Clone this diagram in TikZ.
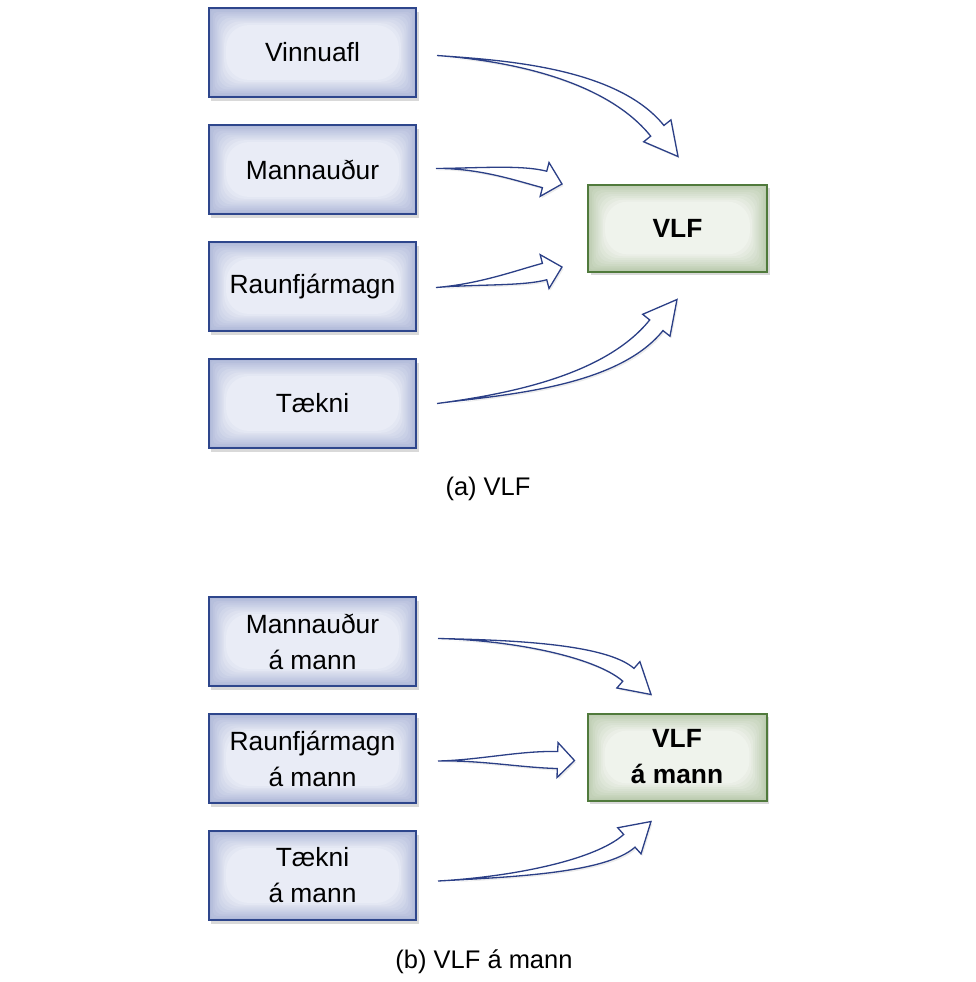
\documentclass[tikz,border=0pt]{standalone}
\usepackage{fontspec}
\setmainfont{Liberation Sans}
\usetikzlibrary{positioning, calc, shadows}
\definecolor{factorline}{RGB}{46,70,140}
\definecolor{factoredge}{RGB}{176,185,217}
\definecolor{factorcore}{RGB}{234,237,246}
\definecolor{outputline}{RGB}{80,122,60}
\definecolor{outputedge}{RGB}{188,204,176}
\definecolor{outputcore}{RGB}{240,243,237}
\definecolor{arrowline}{RGB}{43,63,134}
\newcommand{\shaftw}{1.7mm}
\newcommand{\headw}{3.5mm}
\newcommand{\hollowarrow}[5]{%
  \coordinate (tail) at (#1);
  \coordinate (ctrl) at (#3);
  \coordinate (tip) at (#4);
  \coordinate (base) at ($(tip)!#5!(ctrl)$);
  \filldraw[hollow] (tail) .. controls (#2) and ($(ctrl)!\shaftw!90:(base)$) .. ($(base)!\shaftw!-90:(ctrl)$)
    -- ($(base)!\headw!-90:(ctrl)$) -- (tip) -- ($(base)!\headw!90:(ctrl)$) -- ($(base)!\shaftw!90:(ctrl)$)
    .. controls ($(ctrl)!\shaftw!-90:(base)$) and (#2) .. (tail) -- cycle;}
\begin{document}
\begin{tikzpicture}[x=0.2mm, y=-0.2mm,
    glow/.style 2 args = {path picture = {
        \foreach \k [evaluate=\k as \pct using int(\k*11), evaluate=\k as \rc using \k*0.5] in {1,...,9}
            \fill[#2!\pct!#1, rounded corners=\rc mm] ([shift={(\k*0.38mm,-\k*0.38mm)}]path picture bounding box.north west)
                rectangle ([shift={(-\k*0.38mm,\k*0.38mm)}]path picture bounding box.south east);}},
    blockbox/.style = {draw, line width=0.4mm, minimum width=41.4mm, minimum height=17.8mm, align=center,
        font=\fontsize{15}{20.5}\selectfont, drop shadow={shadow xshift=0.5mm, shadow yshift=-0.7mm, opacity=0.3}},
    factor/.style = {blockbox, draw=factorline, fill=factoredge, glow={factoredge}{factorcore}},
    output/.style = {blockbox, draw=outputline, fill=outputedge, glow={outputedge}{outputcore},
        minimum width=35.8mm, minimum height=17.4mm, font=\fontsize{15}{20.5}\selectfont\bfseries},
    hollow/.style = {draw=arrowline, line width=0.26mm, fill=white, line join=miter,
        drop shadow={shadow xshift=0.3mm, shadow yshift=-0.4mm, opacity=0.15}},
    captiontext/.style = {font=\fontsize{14.5}{17}\selectfont}]
    \useasboundingbox (0,0) rectangle (976,982);
    \node[factor] (vinnuafl) at (312.5,52.5) {Vinnuafl};
    \node[factor] (mannaudur) [below=5.2mm of vinnuafl] {Mannauður};
    \node[factor] (raunfjarmagn) [below=5.2mm of mannaudur] {Raunfjármagn};
    \node[factor] (taekni) [below=5.2mm of raunfjarmagn] {Tækni};
    \node[output] (vlf) at (677.5,228) {VLF};
    \node[captiontext] (capa) at (488,489) {(a) VLF};
    \hollowarrow{$(vinnuafl.east)+(20,3)$}{500,60}{610,72}{$(vlf.north)+(0.5,-27)$}{6.6mm}
    \hollowarrow{$(mannaudur.east)+(19,-1)$}{480,168}{520,173}{$(vlf.west)+(-25,-44)$}{3.6mm}
    \hollowarrow{$(raunfjarmagn.east)+(19,1)$}{480,284}{520,278}{$(vlf.west)+(-25,39)$}{3.6mm}
    \hollowarrow{$(taekni.east)+(20,0)$}{500,395}{610,383}{$(vlf.south)+(-0.5,27)$}{6.6mm}
    \node[factor] (mannaudurpc) at (312.5,641.5) {Mannauður\\á mann};
    \node[factor] (raunfjarmagnpc) [below=5.2mm of mannaudurpc] {Raunfjármagn\\á mann};
    \node[factor] (taeknipc) [below=5.2mm of raunfjarmagnpc] {Tækni\\á mann};
    \node[output] (vlfpc) at (677,757) {VLF\\á mann};
    \node[captiontext] (capb) at (484,962) {(b) VLF á mann};
    \hollowarrow{$(mannaudurpc.east)+(21,-3)$}{510,640}{600,650}{$(vlfpc.north)+(-26,-18)$}{6mm}
    \hollowarrow{$(raunfjarmagnpc.east)+(21,2.5)$}{480,760}{520,759}{$(vlfpc.west)+(-12,3.5)$}{3.4mm}
    \hollowarrow{$(taeknipc.east)+(21,5.5)$}{510,877}{600,867}{$(vlfpc.south)+(-26,20)$}{5.8mm}
\end{tikzpicture}
\end{document}
